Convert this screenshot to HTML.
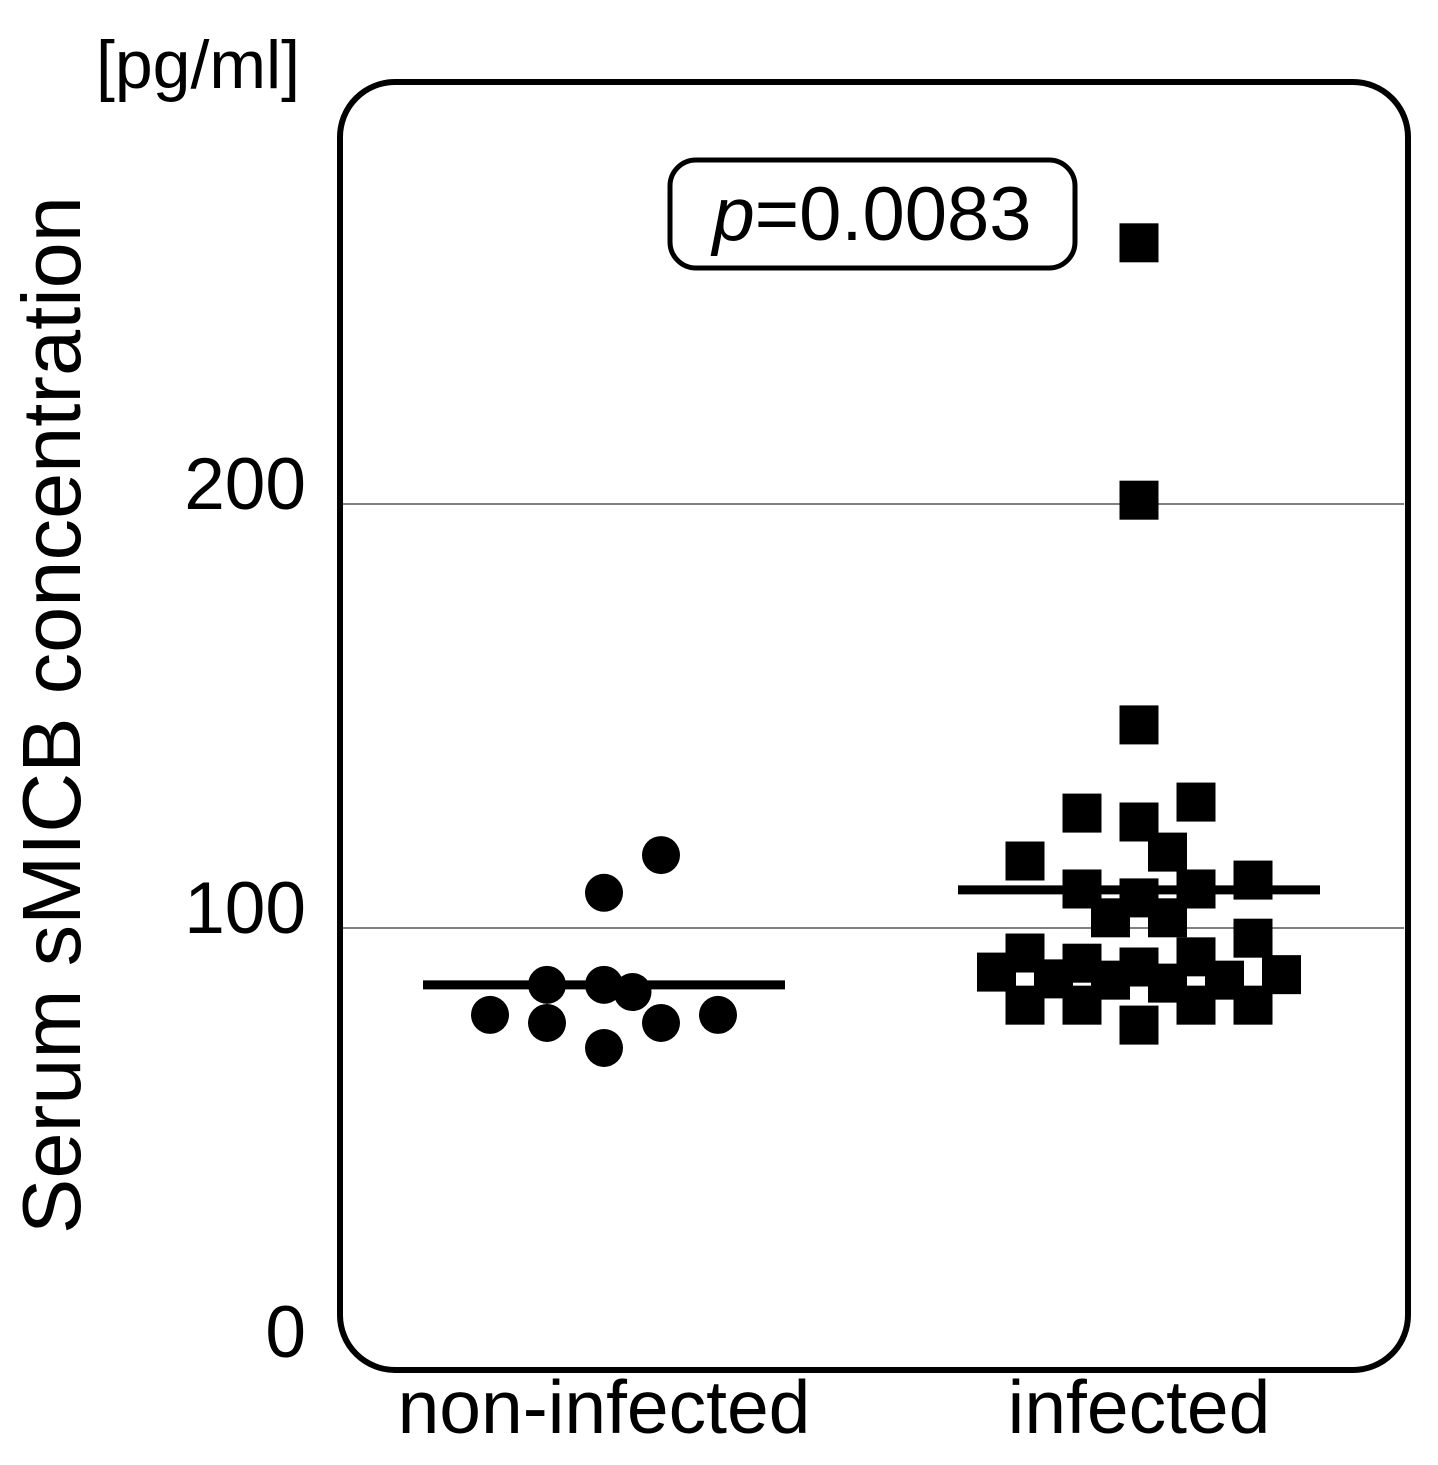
<!DOCTYPE html>
<html><head><meta charset="utf-8"><style>
html,body{margin:0;padding:0;background:#fff;}
svg{display:block;font-family:"Liberation Sans",Arial,sans-serif;}
</style></head><body>
<svg id="chart" width="1438" height="1465" viewBox="0 0 1438 1465">
<rect x="340" y="82" width="1068" height="1288" rx="55" ry="55" fill="none" stroke="#000" stroke-width="6"/>
<text x="198" y="88" font-size="68" text-anchor="middle">[pg/ml]</text>
<text transform="translate(80,715) rotate(-90)" font-size="83" text-anchor="middle">Serum sMICB concentration</text>
<g id="grid"></g><g id="ticks"></g><g id="marks"></g>
<rect x="670" y="160" width="405" height="108" rx="26" ry="26" fill="#fff" stroke="#000" stroke-width="5"/>
<text x="872" y="240" font-size="76" text-anchor="middle"><tspan font-style="italic">p</tspan>=0.0083</text>
</svg>
<script>
const yTicks=[0,100,200];
const categories=["non-infected","infected"];
const nonInfValues=[117.2,108.3,86.6,86.6,84.9,79.5,77.6,77.6,79.5,71.7];
const nonInfJitter=[1,0,-1,0,0.5,-2,-1,1,2,0];
const infValues=[261.6,200.9,147.9,127.1,125,129.7,115.8,117.9,109.2,107.1,109.2,111.3,102.4,102.4,97.6,94.1,91.7,90.8,93.2,89.6,88,87.7,87,87.7,89,81.8,81.8,81.8,81.8,77.1];
const infJitter=[0,0,0,-1,0,1,-2,0.5,-1,0,1,2,-0.5,0.5,2,-2,-1,0,1,-2.5,-1.5,-0.5,0.5,1.5,2.5,-2,-1,1,2,0];
const medians=[86.6,109];
const NS="http://www.w3.org/2000/svg";
const y=v=>1352-v*4.24;
const xc=[604,1139];
const step=57;
function mk(t,a,p){const e=document.createElementNS(NS,t);for(const k in a)e.setAttribute(k,a[k]);(p||document.getElementById('marks')).appendChild(e);return e;}
yTicks.forEach(v=>{
  if(v>0){const l=mk('line',{x1:343,x2:1404,y1:y(v),y2:y(v),stroke:'#000','stroke-width':1},document.getElementById('grid'));
  
  }
  const t=mk('text',{x:306,y:y(v)+5,'font-size':73,'text-anchor':'end'},document.getElementById('ticks'));t.textContent=v;
  
  
});
categories.forEach((c,i)=>{
  const t=mk('text',{x:xc[i],y:1433,'font-size':75,'text-anchor':'middle'},document.getElementById('ticks'));t.textContent=c;
  
  
});
nonInfValues.forEach((v,i)=>{
  const e=mk('circle',{cx:xc[0]+nonInfJitter[i]*step,cy:y(v),r:19,fill:'#000'});
  
  
});
infValues.forEach((v,i)=>{
  const e=mk('rect',{x:xc[1]+infJitter[i]*step-19.5,y:y(v)-19.5,width:39,height:39,fill:'#000'});
  
  
});
medians.forEach((m,i)=>{
  const e=mk('line',{x1:xc[i]-181,x2:xc[i]+181,y1:y(m),y2:y(m),stroke:'#000','stroke-width':9});
  
  
});
</script>
</body></html>
